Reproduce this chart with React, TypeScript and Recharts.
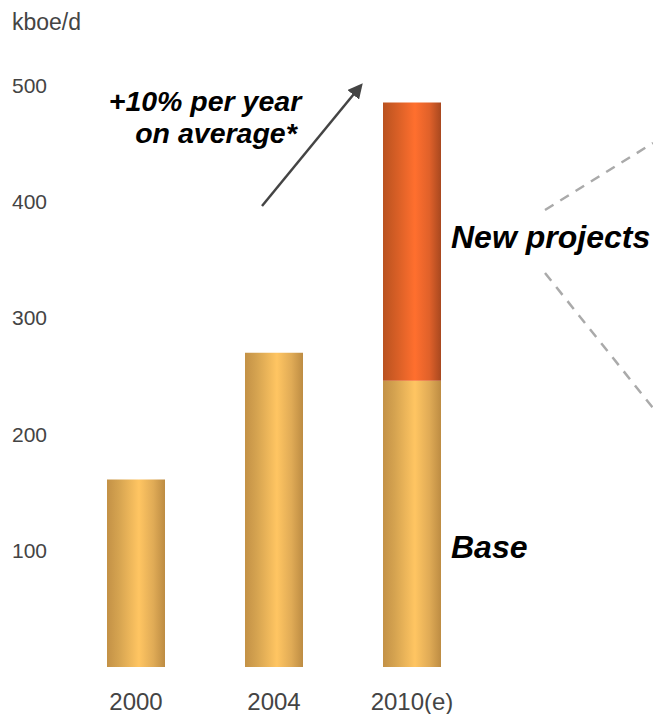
import { BarChart, Bar, XAxis, YAxis } from 'recharts';

const years = ['2000', '2004', '2010(e)'];
const baseOutput = [161, 270, 246];
const newProjects = [0, 0, 239];
const yTicks = [100, 200, 300, 400, 500];

const data = years.map((year, i) => ({
  year,
  base: baseOutput[i],
  newProjects: newProjects[i] || null,
}));

const FONT = '"Liberation Sans", Arial, sans-serif';

function YTick({ y, payload }: any) {
  return (
    <text x={12} y={y} dominantBaseline="central" textAnchor="start" fontSize={21} fill="#444" fontFamily={FONT}>
      {payload.value}
    </text>
  );
}

function XTick({ x, y, payload }: any) {
  return (
    <text x={x} y={y + 35} textAnchor="middle" fontSize={24} fill="#444" fontFamily={FONT}>
      {payload.value}
    </text>
  );
}

export default function App() {
  return (
    <div style={{ position: 'absolute', left: 0, top: 0, width: 653, height: 714, background: '#fff' }}>
      <BarChart
        width={653}
        height={714}
        data={data}
        margin={{ top: 85, right: 172, left: 0, bottom: 0 }}
        barSize={58}
      >
        <defs>
          <linearGradient id="gold" x1="0" y1="0" x2="1" y2="0">
            <stop offset="0%" stopColor="#c39146" />
            <stop offset="20%" stopColor="#d5a350" />
            <stop offset="55%" stopColor="#ffc562" />
            <stop offset="80%" stopColor="#e0ab56" />
            <stop offset="100%" stopColor="#bd8c43" />
          </linearGradient>
          <linearGradient id="orange" x1="0" y1="0" x2="1" y2="0">
            <stop offset="0%" stopColor="#b9521f" />
            <stop offset="25%" stopColor="#d85f26" />
            <stop offset="55%" stopColor="#ff6f2e" />
            <stop offset="80%" stopColor="#e0612a" />
            <stop offset="100%" stopColor="#a8481f" />
          </linearGradient>
        </defs>
        <XAxis dataKey="year" axisLine={false} tickLine={false} height={47} tick={<XTick />} interval={0} />
        <YAxis
          domain={[0, 500]}
          ticks={yTicks}
          axisLine={false}
          tickLine={false}
          width={67}
          tick={<YTick />}
        />
        <Bar dataKey="base" stackId="a" fill="url(#gold)" isAnimationActive={false} />
        <Bar dataKey="newProjects" stackId="a" fill="url(#orange)" isAnimationActive={false} />
      </BarChart>
      <svg
        width={653}
        height={714}
        style={{ position: 'absolute', left: 0, top: 0, pointerEvents: 'none' }}
      >
        <defs>
          <marker id="arrow" markerWidth="6" markerHeight="6" refX="3" refY="3" orient="auto" markerUnits="strokeWidth">
            <path d="M0,0 L6,3 L0,6 z" fill="#444" />
          </marker>
        </defs>
        <text x={12} y={30} fontSize={23} fill="#444" fontFamily={FONT}>kboe/d</text>
        <g fontFamily={FONT} fontWeight="bold" fontStyle="italic" fontSize={28.5} fill="#000" textAnchor="middle">
          <text x={205} y={111}>+10% per year</text>
          <text x={216} y={143}>on average*</text>
        </g>
        <line x1={262} y1={206} x2={358} y2={89} stroke="#444" strokeWidth={2.5} markerEnd="url(#arrow)" />
        <g fontFamily={FONT} fontWeight="bold" fontStyle="italic" fontSize={32} fill="#000">
          <text x={451} y={248}>New projects</text>
          <text x={451} y={558}>Base</text>
        </g>
        <line x1={545} y1={210} x2={653} y2={143} stroke="#aaa" strokeWidth={2.5} strokeDasharray="10 8" />
        <line x1={545} y1={273} x2={653} y2={408} stroke="#aaa" strokeWidth={2.5} strokeDasharray="10 8" />
      </svg>
    </div>
  );
}
